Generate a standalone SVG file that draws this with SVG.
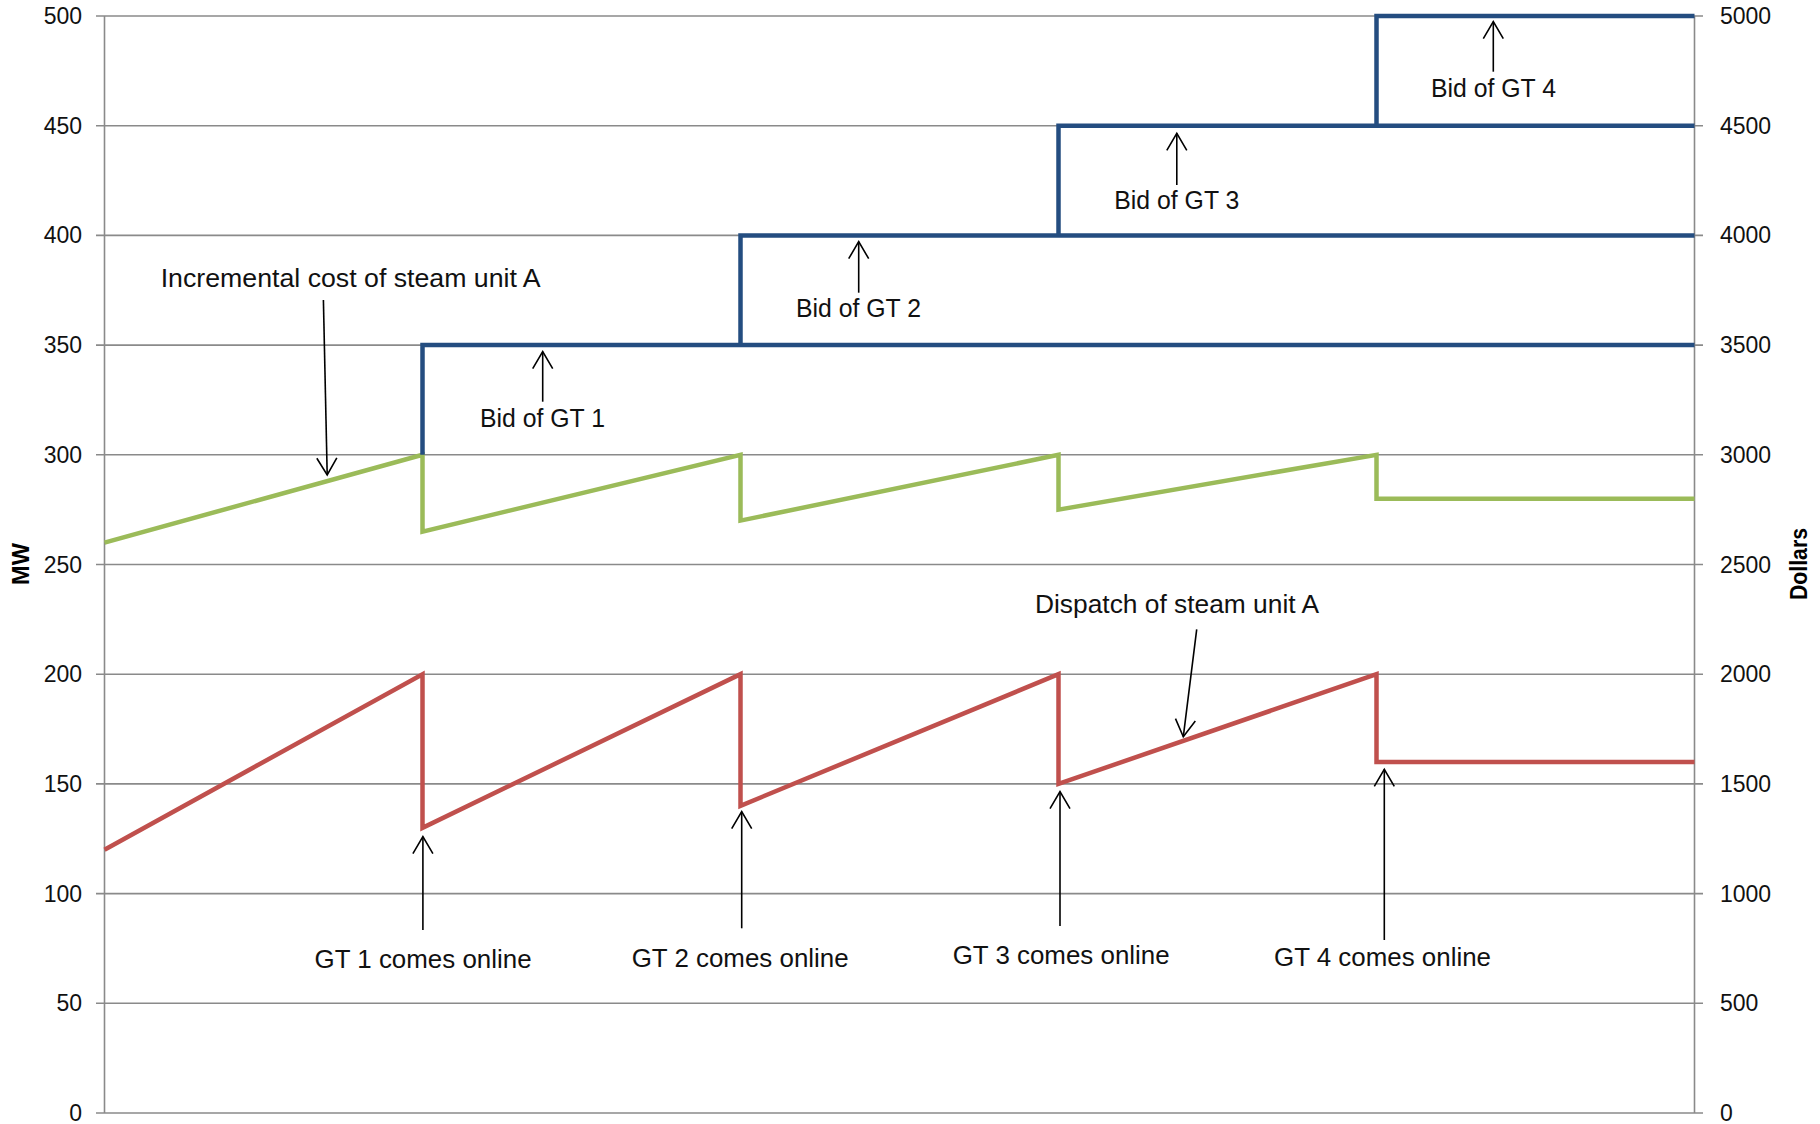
<svg xmlns="http://www.w3.org/2000/svg" width="1820" height="1124" viewBox="0 0 1820 1124">
<defs>
<style>
.grid{stroke:#8a8a8a;stroke-width:1.6;fill:none}
.tick{font-family:"Liberation Sans",Arial,sans-serif;font-size:23px;fill:#111}
.title{font-family:"Liberation Sans",Arial,sans-serif;font-size:23px;font-weight:bold;fill:#000}
.lbl{font-family:"Liberation Sans",Arial,sans-serif;font-size:25px;fill:#111}
.ser{fill:none;stroke-width:4.5;stroke-linejoin:miter}
.blue{stroke:#244d80}
.green{stroke:#9bbb59}
.red{stroke:#c0504d}
.arr{stroke:#000;stroke-width:1.6;fill:none;marker-end:url(#open)}
</style>
<marker id="open" markerUnits="userSpaceOnUse" viewBox="-20 -12 22 24" refX="0" refY="0" markerWidth="22" markerHeight="24" orient="auto">
<path d="M-17,-10 L0,0 L-17,10" fill="none" stroke="#000" stroke-width="1.6"/>
</marker>
</defs>
<rect width="1820" height="1124" fill="#fff"/>
<g id="gridlines">
<path class="grid" d="M96,16H1703M96,125.7H1703M96,235.4H1703M96,345.1H1703M96,454.8H1703M96,564.5H1703M96,674.2H1703M96,783.9H1703M96,893.6H1703M96,1003.3H1703M96,1113H1703M104.5,16V1113M1694.5,16V1113"/>
</g>
<g id="left-axis" class="tick" text-anchor="end">
<text x="82" y="24">500</text>
<text x="82" y="133.7">450</text>
<text x="82" y="243.4">400</text>
<text x="82" y="353.1">350</text>
<text x="82" y="462.8">300</text>
<text x="82" y="572.5">250</text>
<text x="82" y="682.2">200</text>
<text x="82" y="791.9">150</text>
<text x="82" y="901.6">100</text>
<text x="82" y="1011.3">50</text>
<text x="82" y="1121">0</text>
</g>
<g id="right-axis" class="tick" text-anchor="start">
<text x="1720" y="24">5000</text>
<text x="1720" y="133.7">4500</text>
<text x="1720" y="243.4">4000</text>
<text x="1720" y="353.1">3500</text>
<text x="1720" y="462.8">3000</text>
<text x="1720" y="572.5">2500</text>
<text x="1720" y="682.2">2000</text>
<text x="1720" y="791.9">1500</text>
<text x="1720" y="901.6">1000</text>
<text x="1720" y="1011.3">500</text>
<text x="1720" y="1121">0</text>
</g>
<g id="axis-titles" class="title" text-anchor="middle">
<text transform="translate(29.3,564) rotate(-90)" textLength="42" lengthAdjust="spacingAndGlyphs">MW</text>
<text transform="translate(1806.5,564) rotate(-90)" textLength="72" lengthAdjust="spacingAndGlyphs">Dollars</text>
</g>
<g id="series">
<path id="incremental-cost" class="ser green" d="M104.5,542.6L422.5,454.8V531.6L740.5,454.8V520.6L1058.5,454.8V509.6L1376.5,454.8V498.7H1694.5"/>
<path id="dispatch" class="ser red" d="M104.5,849.7L422.5,674.2V827.8L740.5,674.2V805.8L1058.5,674.2V783.9L1376.5,674.2V762H1694.5"/>
<path id="bid-gt1" class="ser blue" d="M422.5,454.8V345.1H1694.5"/>
<path id="bid-gt2" class="ser blue" d="M740.5,345.1V235.4H1694.5"/>
<path id="bid-gt3" class="ser blue" d="M1058.5,235.4V125.7H1694.5"/>
<path id="bid-gt4" class="ser blue" d="M1376.5,125.7V16H1694.5"/>
</g>
<g id="connectors">
<path class="arr" d="M323.4,300L327.2,475"/>
<path class="arr" d="M542.7,401.7V351.7"/>
<path class="arr" d="M858.7,292.7V241.7"/>
<path class="arr" d="M1176.8,185V133.3"/>
<path class="arr" d="M1493.3,71.7V21.7"/>
<path class="arr" d="M1196.7,629.3L1183.3,736.7"/>
<path class="arr" d="M422.9,930V836.7"/>
<path class="arr" d="M741.7,928.3V811.7"/>
<path class="arr" d="M1060,926V791.7"/>
<path class="arr" d="M1384.3,940V769.3"/>
</g>
<g id="label-incremental" class="lbl"><text x="160.7" y="287.3" textLength="380" lengthAdjust="spacingAndGlyphs">Incremental cost of steam unit A</text></g>
<g id="label-bid1" class="lbl"><text x="480" y="426.7" textLength="125" lengthAdjust="spacingAndGlyphs">Bid of GT 1</text></g>
<g id="label-bid2" class="lbl"><text x="796" y="317.3" textLength="125" lengthAdjust="spacingAndGlyphs">Bid of GT 2</text></g>
<g id="label-bid3" class="lbl"><text x="1114.3" y="209.3" textLength="125" lengthAdjust="spacingAndGlyphs">Bid of GT 3</text></g>
<g id="label-bid4" class="lbl"><text x="1431" y="97.3" textLength="125" lengthAdjust="spacingAndGlyphs">Bid of GT 4</text></g>
<g id="label-dispatch" class="lbl"><text x="1035" y="613.3" textLength="284" lengthAdjust="spacingAndGlyphs">Dispatch of steam unit A</text></g>
<g id="label-gt1" class="lbl"><text x="314.6" y="967.7" textLength="217" lengthAdjust="spacingAndGlyphs">GT 1 comes online</text></g>
<g id="label-gt2" class="lbl"><text x="631.7" y="966.7" textLength="217" lengthAdjust="spacingAndGlyphs">GT 2 comes online</text></g>
<g id="label-gt3" class="lbl"><text x="952.7" y="964" textLength="217" lengthAdjust="spacingAndGlyphs">GT 3 comes online</text></g>
<g id="label-gt4" class="lbl"><text x="1274" y="966" textLength="217" lengthAdjust="spacingAndGlyphs">GT 4 comes online</text></g>
</svg>
